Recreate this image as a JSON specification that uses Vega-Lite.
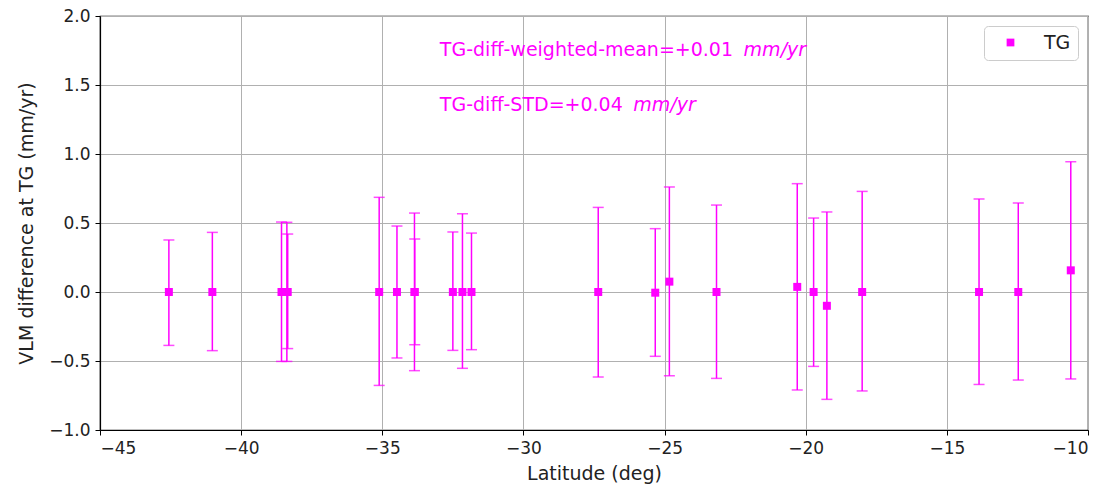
{
  "$schema": "https://vega.github.io/schema/vega-lite/v6.json",
  "width": 988,
  "height": 414,
  "autosize": {"type": "none"},
  "padding": {"left": 100, "top": 16, "right": 27, "bottom": 61},
  "background": "white",
  "config": {
    "font": "DejaVu Sans",
    "view": {"stroke": "black", "strokeWidth": 1.2},
    "axis": {
      "labelFont": "DejaVu Sans",
      "titleFont": "DejaVu Sans",
      "labelFontSize": 17,
      "titleFontSize": 19,
      "labelColor": "#222",
      "titleColor": "#222",
      "titleFontWeight": "normal",
      "domainColor": "black",
      "domainWidth": 1.2,
      "tickColor": "black",
      "tickSize": 5,
      "tickWidth": 1,
      "gridColor": "#b0b0b0",
      "gridWidth": 1,
      "gridOpacity": 1
    }
  },
  "datasets": {
    "pts": [
      {"lat": -42.56, "diff": 0.0, "lo": -0.387, "hi": 0.377, "series": "TG"},
      {"lat": -41.02, "diff": 0.0, "lo": -0.425, "hi": 0.432, "series": "TG"},
      {"lat": -38.57, "diff": 0.0, "lo": -0.503, "hi": 0.507, "series": "TG"},
      {"lat": -38.38, "diff": 0.0, "lo": -0.503, "hi": 0.505, "series": "TG"},
      {"lat": -38.35, "diff": 0.0, "lo": -0.41, "hi": 0.42, "series": "TG"},
      {"lat": -35.11, "diff": 0.0, "lo": -0.677, "hi": 0.686, "series": "TG"},
      {"lat": -34.48, "diff": 0.0, "lo": -0.478, "hi": 0.478, "series": "TG"},
      {"lat": -33.86, "diff": 0.0, "lo": -0.57, "hi": 0.572, "series": "TG"},
      {"lat": -33.85, "diff": 0.0, "lo": -0.382, "hi": 0.384, "series": "TG"},
      {"lat": -32.5, "diff": 0.0, "lo": -0.423, "hi": 0.435, "series": "TG"},
      {"lat": -32.16, "diff": 0.0, "lo": -0.553, "hi": 0.567, "series": "TG"},
      {"lat": -31.84, "diff": 0.0, "lo": -0.418, "hi": 0.427, "series": "TG"},
      {"lat": -27.35, "diff": 0.0, "lo": -0.616, "hi": 0.613, "series": "TG"},
      {"lat": -25.33, "diff": -0.005, "lo": -0.466, "hi": 0.459, "series": "TG"},
      {"lat": -24.83, "diff": 0.075, "lo": -0.607, "hi": 0.761, "series": "TG"},
      {"lat": -23.16, "diff": 0.0, "lo": -0.626, "hi": 0.63, "series": "TG"},
      {"lat": -20.3, "diff": 0.037, "lo": -0.71, "hi": 0.785, "series": "TG"},
      {"lat": -19.72, "diff": 0.0, "lo": -0.539, "hi": 0.536, "series": "TG"},
      {"lat": -19.25, "diff": -0.1, "lo": -0.778, "hi": 0.58, "series": "TG"},
      {"lat": -18.0, "diff": 0.0, "lo": -0.717, "hi": 0.729, "series": "TG"},
      {"lat": -13.86, "diff": 0.0, "lo": -0.67, "hi": 0.674, "series": "TG"},
      {"lat": -12.47, "diff": 0.0, "lo": -0.638, "hi": 0.645, "series": "TG"},
      {"lat": -10.61, "diff": 0.157, "lo": -0.63, "hi": 0.944, "series": "TG"}
    ],
    "notes": [
      {"lat": -32.96, "diff": 1.756, "txt": "TG-diff-weighted-mean=+0.01", "kind": "normal"},
      {"lat": -22.2, "diff": 1.756, "txt": "mm/yr", "kind": "italic"},
      {"lat": -32.96, "diff": 1.357, "txt": "TG-diff-STD=+0.04", "kind": "normal"},
      {"lat": -26.11, "diff": 1.357, "txt": "mm/yr", "kind": "italic"}
    ]
  },
  "encoding": {
    "x": {
      "field": "lat",
      "type": "quantitative",
      "scale": {"domain": [-45, -10], "nice": false, "zero": false},
      "axis": {"values": [-45, -40, -35, -30, -25, -20, -15, -10], "title": "Latitude (deg)", "titlePadding": 8, "labelPadding": 5}
    }
  },
  "layer": [
    {
      "data": {"name": "pts"},
      "mark": {"type": "rule", "color": "#ff00ff", "strokeWidth": 1.5},
      "encoding": {
        "y": {
          "field": "lo",
          "type": "quantitative",
          "scale": {"domain": [-1, 2], "nice": false, "zero": false},
          "axis": {"values": [-1, -0.5, 0, 0.5, 1, 1.5, 2], "format": ".1f", "title": "VLM difference at TG (mm/yr)", "titlePadding": 12, "labelPadding": 5}
        },
        "y2": {"field": "hi"}
      }
    },
    {
      "data": {"name": "pts"},
      "mark": {"type": "tick", "orient": "horizontal", "color": "#ff00ff", "size": 11, "thickness": 1.5},
      "encoding": {"y": {"field": "lo", "type": "quantitative"}}
    },
    {
      "data": {"name": "pts"},
      "mark": {"type": "tick", "orient": "horizontal", "color": "#ff00ff", "size": 11, "thickness": 1.5},
      "encoding": {"y": {"field": "hi", "type": "quantitative"}}
    },
    {
      "data": {"name": "pts"},
      "mark": {"type": "point", "shape": "square", "filled": true, "size": 64, "opacity": 1},
      "encoding": {
        "y": {"field": "diff", "type": "quantitative"},
        "color": {
          "field": "series",
          "type": "nominal",
          "scale": {"range": ["#ff00ff"]},
          "legend": {
            "title": null,
            "orient": "top-right",
            "offset": 10,
            "symbolType": "square",
            "symbolSize": 60,
            "labelFontSize": 19,
            "labelFont": "DejaVu Sans",
            "labelColor": "#222",
            "fillColor": "white",
            "strokeColor": "#cccccc",
            "cornerRadius": 4,
            "padding": 7,
            "symbolOffset": 10,
            "labelOffset": 24
          }
        }
      }
    },
    {
      "data": {"name": "notes"},
      "transform": [{"filter": "datum.kind === 'normal'"}],
      "mark": {"type": "text", "align": "left", "baseline": "middle", "fontSize": 19, "color": "#ff00ff", "font": "DejaVu Sans"},
      "encoding": {
        "y": {"field": "diff", "type": "quantitative"},
        "text": {"field": "txt"}
      }
    },
    {
      "data": {"name": "notes"},
      "transform": [{"filter": "datum.kind === 'italic'"}],
      "mark": {"type": "text", "align": "left", "baseline": "middle", "fontSize": 19, "fontStyle": "italic", "color": "#ff00ff", "font": "DejaVu Sans"},
      "encoding": {
        "y": {"field": "diff", "type": "quantitative"},
        "text": {"field": "txt"}
      }
    }
  ]
}
